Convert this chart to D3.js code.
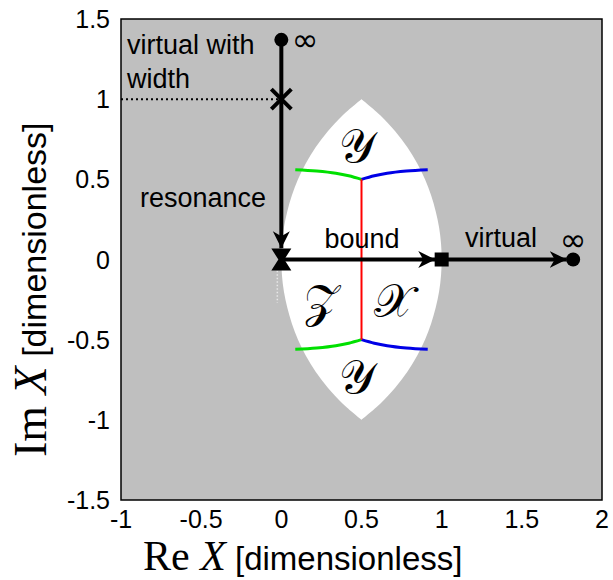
<!DOCTYPE html>
<html>
<head>
<meta charset="utf-8">
<script src="https://cdn.jsdelivr.net/npm/d3@7"></script>
<style>
  html, body { margin: 0; padding: 0; background: #fff; }
  svg { display: block; }
</style>
</head>
<body>
<svg id="chart" width="613" height="580"></svg>
<script>
// Axis ticks
const xTicks = [-1, -0.5, 0, 0.5, 1, 1.5, 2];
const yTicks = [-1.5, -1, -0.5, 0, 0.5, 1, 1.5];

// White lens region: left and right boundaries, top tip to bottom tip
const lensLeft = [
  [0.5, 1.0], [0.383, 0.9], [0.29, 0.8], [0.214, 0.7], [0.153, 0.6], [0.104, 0.5],
  [0.066, 0.4], [0.037, 0.3], [0.016, 0.2], [0.004, 0.1], [0.0, 0.0],
  [0.004, -0.1], [0.016, -0.2], [0.037, -0.3], [0.066, -0.4], [0.104, -0.5],
  [0.153, -0.6], [0.214, -0.7], [0.29, -0.8], [0.383, -0.9], [0.5, -1.0]
];
const lensRight = [
  [0.5, 1.0], [0.617, 0.9], [0.71, 0.8], [0.786, 0.7], [0.847, 0.6], [0.896, 0.5],
  [0.934, 0.4], [0.963, 0.3], [0.984, 0.2], [0.996, 0.1], [1.0, 0.0],
  [0.996, -0.1], [0.984, -0.2], [0.963, -0.3], [0.934, -0.4], [0.896, -0.5],
  [0.847, -0.6], [0.786, -0.7], [0.71, -0.8], [0.617, -0.9], [0.5, -1.0]
];

// Region borders
const greenUpper = [[0.087, 0.56], [0.22, 0.552], [0.34, 0.538], [0.42, 0.522], [0.5, 0.5]];
const blueUpper  = [[0.5, 0.5], [0.58, 0.522], [0.66, 0.538], [0.78, 0.552], [0.913, 0.56]];
const greenLower = [[0.087, -0.56], [0.22, -0.552], [0.34, -0.538], [0.42, -0.522], [0.5, -0.5]];
const blueLower  = [[0.5, -0.5], [0.58, -0.522], [0.66, -0.538], [0.78, -0.552], [0.913, -0.56]];
const redDivide  = [[0.5, 0.5], [0.5, -0.5]];

// Trajectories (arrows)
const resonancePath = [[0, 1.37], [0, 0.07]];
const boundPath     = [[0, 0], [0.96, 0]];
const virtualPath   = [[1.0, 0], [1.78, 0]];
const widthGuide    = [[-1, 1], [0, 1]];

// Markers
const circleMarks = [[0, 1.37], [1.82, 0]];
const crossMark   = [0, 1];
const bowtieMark  = [0, 0];
const squareMark  = [1, 0];

// Region names
const regionLabels = [
  { text: "\u{1D4B4}", x: 0.47, y: 0.71 },
  { text: "\u{1D4B4}", x: 0.47, y: -0.73 },
  { text: "\u{1D4B5}", x: 0.25, y: -0.26 },
  { text: "\u{1D4B3}", x: 0.70, y: -0.26 }
];

const svg = d3.select("#chart");
const x = d3.scaleLinear().domain([-1, 2]).range([121, 602]);
const y = d3.scaleLinear().domain([-1.5, 1.5]).range([500, 19]);

const sans = "'Liberation Sans', Arial, Helvetica, sans-serif";
const serif = "'Liberation Serif', 'Times New Roman', serif";

// Plot background
svg.append("rect")
  .attr("x", x(-1)).attr("y", y(1.5))
  .attr("width", x(2) - x(-1)).attr("height", y(-1.5) - y(1.5))
  .attr("fill", "#bfbfbf");

// Lens
const curve = d3.line().x(d => x(d[0])).y(d => y(d[1])).curve(d3.curveCatmullRom);
const lensPath = curve(lensLeft) + curve(lensRight.slice().reverse()).replace(/^M/, "L") + "Z";
svg.append("path").attr("d", lensPath).attr("fill", "#ffffff");

// faint dotted seam just under the bound-state marker
svg.append("line")
  .attr("x1", x(0) - 4).attr("x2", x(0) - 4)
  .attr("y1", y(-0.07)).attr("y2", y(-0.27))
  .attr("stroke", "#e8e8e8").attr("stroke-width", 1.5)
  .attr("stroke-dasharray", "1.5,2");

const lin = d3.line().x(d => x(d[0])).y(d => y(d[1]));
const smooth = d3.line().x(d => x(d[0])).y(d => y(d[1])).curve(d3.curveMonotoneX);

// Region borders
[[greenUpper, "#00e000"], [greenLower, "#00e000"], [blueUpper, "#0000e6"], [blueLower, "#0000e6"]]
  .forEach(([pts, col]) => {
    svg.append("path").attr("d", smooth(pts)).attr("fill", "none")
      .attr("stroke", col).attr("stroke-width", 3);
  });
svg.append("path").attr("d", lin(redDivide)).attr("fill", "none")
  .attr("stroke", "#ff0000").attr("stroke-width", 2);

// Region names
svg.selectAll("text.region").data(regionLabels).join("text")
  .attr("class", "region")
  .attr("x", d => x(d.x)).attr("y", d => y(d.y))
  .attr("text-anchor", "middle").attr("dominant-baseline", "central")
  .attr("font-family", "'DejaVu Serif', 'Noto Sans', serif")
  .attr("font-size", 46)
  .attr("fill", "#000")
  .text(d => d.text);

// Dotted guide at Im X = 1
svg.append("path").attr("d", lin(widthGuide)).attr("fill", "none")
  .attr("stroke", "#000").attr("stroke-width", 2).attr("stroke-dasharray", "2,3");

// Arrowhead
const defs = svg.append("defs");
defs.append("marker")
  .attr("id", "arrow")
  .attr("viewBox", "-17 -9 19 18")
  .attr("refX", 0).attr("refY", 0)
  .attr("markerWidth", 19).attr("markerHeight", 18)
  .attr("markerUnits", "userSpaceOnUse")
  .attr("orient", "auto")
  .append("path")
  .attr("d", "M0,0 L-17,-8.5 L-12,0 L-17,8.5 Z")
  .attr("fill", "#000");

[resonancePath, boundPath, virtualPath].forEach(p => {
  svg.append("path").attr("d", lin(p)).attr("fill", "none")
    .attr("stroke", "#000").attr("stroke-width", 4)
    .attr("marker-end", "url(#arrow)");
});

// Markers
svg.selectAll("circle.mark").data(circleMarks).join("circle")
  .attr("class", "mark")
  .attr("cx", d => x(d[0])).attr("cy", d => y(d[1])).attr("r", 7)
  .attr("fill", "#000");

svg.append("path")
  .attr("transform", `translate(${x(crossMark[0])},${y(crossMark[1])})`)
  .attr("d", "M-10,-10 L10,10 M-10,10 L10,-10")
  .attr("stroke", "#000").attr("stroke-width", 4).attr("fill", "none");

svg.append("path")
  .attr("transform", `translate(${x(bowtieMark[0])},${y(bowtieMark[1])})`)
  .attr("d", "M-10,-11 L10,-11 L3,0 L10,11 L-10,11 L-3,0 Z")
  .attr("fill", "#000");

svg.append("rect")
  .attr("x", x(squareMark[0]) - 7).attr("y", y(squareMark[1]) - 7)
  .attr("width", 14).attr("height", 14)
  .attr("fill", "#000");

// Annotations
const notes = [
  { t: "virtual with", px: 127, py: 54, anchor: "start" },
  { t: "width", px: 127, py: 88, anchor: "start" },
  { t: "resonance", px: 140, py: 207, anchor: "start" },
  { t: "bound", px: 362, py: 248, anchor: "middle" },
  { t: "virtual", px: 465, py: 247, anchor: "start" }
];
svg.selectAll("text.note").data(notes).join("text")
  .attr("class", "note")
  .attr("x", d => d.px).attr("y", d => d.py)
  .attr("text-anchor", d => d.anchor)
  .attr("font-family", sans).attr("font-size", 27)
  .text(d => d.t);

// Infinity marks
[[305, 40], [573, 240]].forEach(([px, py]) => {
  svg.append("text").attr("x", px).attr("y", py)
    .attr("text-anchor", "middle").attr("dominant-baseline", "central")
    .attr("font-family", "'DejaVu Sans', sans-serif").attr("font-size", 32)
    .text("\u221E");
});

// Frame
svg.append("rect")
  .attr("x", x(-1)).attr("y", y(1.5))
  .attr("width", x(2) - x(-1)).attr("height", y(-1.5) - y(1.5))
  .attr("fill", "none").attr("stroke", "#000").attr("stroke-width", 1.5);

// Tick labels
const fmt = d => String(d);
svg.selectAll("text.xt").data(xTicks).join("text")
  .attr("class", "xt")
  .attr("x", d => x(d)).attr("y", 519)
  .attr("text-anchor", "middle").attr("dominant-baseline", "central")
  .attr("font-family", sans).attr("font-size", 25)
  .text(fmt);
svg.selectAll("text.yt").data(yTicks).join("text")
  .attr("class", "yt")
  .attr("x", 110).attr("y", d => y(d))
  .attr("text-anchor", "end").attr("dominant-baseline", "central")
  .attr("font-family", sans).attr("font-size", 25)
  .text(fmt);

// Axis titles
const xl = svg.append("text").attr("x", 143).attr("y", 570);
xl.append("tspan").attr("font-family", serif).attr("font-size", 42).text("Re ");
xl.append("tspan").attr("font-family", serif).attr("font-style", "italic").attr("font-size", 42).text("X");
xl.append("tspan").attr("font-family", sans).attr("font-size", 33).text(" [dimensionless]");

const yl = svg.append("text").attr("transform", "translate(46,457) rotate(-90)");
yl.append("tspan").attr("font-family", serif).attr("font-size", 46).text("Im ");
yl.append("tspan").attr("font-family", serif).attr("font-style", "italic").attr("font-size", 46).text("X");
yl.append("tspan").attr("font-family", sans).attr("font-size", 34).text(" [dimensionless]");
</script>
</body>
</html>
